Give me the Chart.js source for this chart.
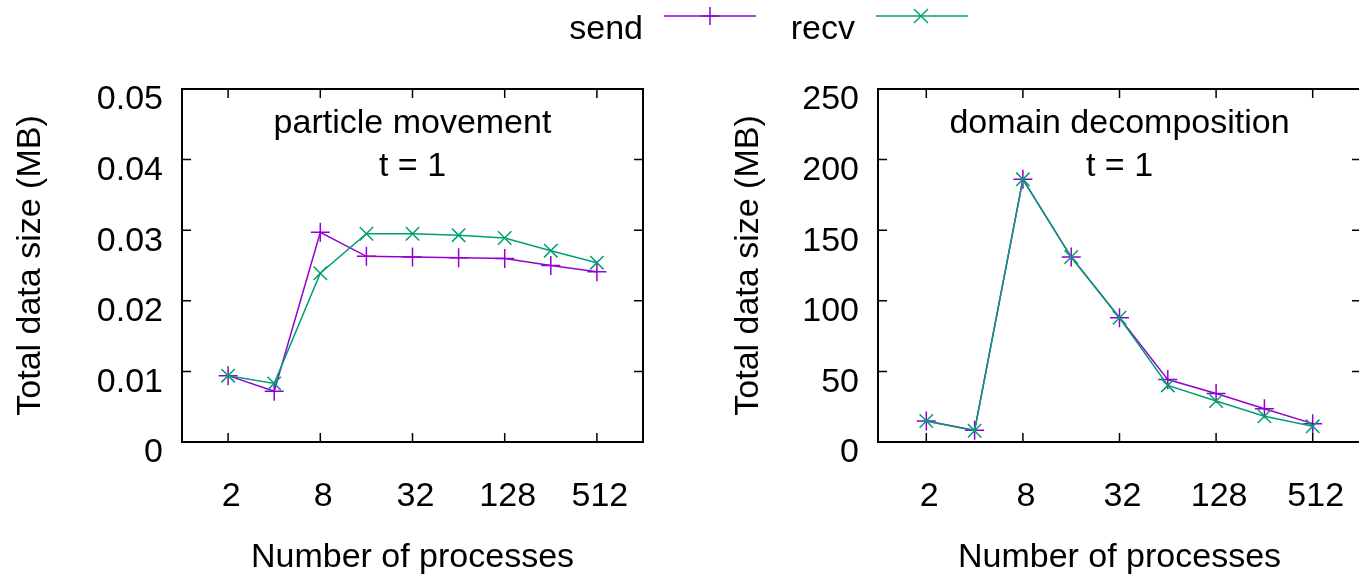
<!DOCTYPE html>
<html>
<head>
<meta charset="utf-8">
<script src="https://cdn.jsdelivr.net/npm/chart.js@4.4.1/dist/chart.umd.min.js"></script>
<style>
  html, body { margin: 0; padding: 0; background: #fff; width: 1359px; height: 578px; overflow: hidden; }
  #wrap { position: relative; width: 1359px; height: 578px; font-family: "Liberation Sans", Arial, sans-serif; }
  canvas { position: absolute; top: 0; }
  #leftChart { left: 0; }
  #rightChart { left: 718px; }
  .key { position: absolute; top: 10px; font-size: 34px; line-height: 1; color: #000; }
</style>
</head>
<body>
<div id="wrap">
  <canvas id="leftChart" width="680" height="578"></canvas>
  <canvas id="rightChart" width="680" height="578"></canvas>

  <!-- legend on top, like gnuplot's key -->
  <span class="key" style="right: 716px;">send</span>
  <span class="key" style="right: 504px;">recv</span>
  <svg style="position:absolute;left:0;top:0" width="1359" height="40">
    <g stroke="#9400D3" stroke-width="1.5">
      <line x1="664" y1="16" x2="756" y2="16"/>
      <line x1="710" y1="7" x2="710" y2="25"/>
      <line x1="701" y1="16" x2="719" y2="16"/>
    </g>
    <g stroke="#009E73" stroke-width="1.5">
      <line x1="876" y1="16" x2="968" y2="16"/>
      <line x1="914" y1="9" x2="928" y2="23"/>
      <line x1="914" y1="23" x2="928" y2="9"/>
    </g>
  </svg>
</div>

<script>
// --- data ---
const processes = [2, 4, 8, 16, 32, 64, 128, 256, 512];
const xTickLabels = ['2', '8', '32', '128', '512'];

// particle movement, t = 1
const moveSend = [0.0094, 0.0072, 0.0297, 0.0263, 0.0262, 0.0261, 0.0260, 0.0250, 0.0241];
const moveRecv = [0.0094, 0.0083, 0.0239, 0.0295, 0.0295, 0.0293, 0.0289, 0.0271, 0.0254];

// domain decomposition, t = 1
const domSend = [14.9, 8.3, 186, 131, 88, 44.2, 34.3, 23.6, 13.0];
const domRecv = [14.9, 8.0, 186, 131, 88, 40.1, 29.0, 18.2, 11.1];

const SEND_COLOR = '#9400D3';
const RECV_COLOR = '#009E73';
const FONT = { family: '"Liberation Sans", Arial, sans-serif', size: 34 };

Chart.defaults.font.family = FONT.family;
Chart.defaults.color = '#000';

// border box with inward ticks on all 4 sides + panel caption
const framePlugin = {
    id: 'frame',
    afterDraw(chart, args, opts) {
        const { ctx, chartArea: a, scales } = chart;
        const x = scales.x, y = scales.y;
        const tl = 9;
        ctx.save();
        ctx.strokeStyle = '#000';
        ctx.lineWidth = 1.5;
        ctx.beginPath();
        x.ticks.forEach(t => {
            const px = x.getPixelForValue(t.value);
            ctx.moveTo(px, a.bottom); ctx.lineTo(px, a.bottom - tl);
            ctx.moveTo(px, a.top); ctx.lineTo(px, a.top + tl);
        });
        y.ticks.forEach(t => {
            const py = y.getPixelForValue(t.value);
            ctx.moveTo(a.left, py); ctx.lineTo(a.left + tl, py);
            ctx.moveTo(a.right, py); ctx.lineTo(a.right - tl, py);
        });
        ctx.stroke();
        ctx.lineWidth = 2;
        ctx.strokeRect(a.left, a.top, a.right - a.left, a.bottom - a.top);

        ctx.fillStyle = '#000';
        ctx.font = `${FONT.size}px ${FONT.family}`;
        ctx.textAlign = 'center';
        ctx.textBaseline = 'alphabetic';
        const cx = (a.left + a.right) / 2;
        (opts.lines || []).forEach((s, i) => ctx.fillText(s, cx, a.top + 44 + i * 43));
        ctx.restore();
    }
};

function toPoints(vals) {
    return processes.map((p, i) => ({ x: Math.log2(p), y: vals[i] }));
}

function buildChart(canvasId, sendVals, recvVals, yMax, yStep, yAxisWidth, caption) {
    const ctx = document.getElementById(canvasId).getContext('2d');
    return new Chart(ctx, {
        type: 'line',
        data: {
            datasets: [{
                label: 'send',
                data: toPoints(sendVals),
                borderColor: SEND_COLOR,
                backgroundColor: SEND_COLOR,
                borderWidth: 1.5,
                pointStyle: 'cross',
                pointRadius: 9.5,
                pointBorderWidth: 1.5,
                order: 1
            }, {
                label: 'recv',
                data: toPoints(recvVals),
                borderColor: RECV_COLOR,
                backgroundColor: RECV_COLOR,
                borderWidth: 1.5,
                pointStyle: 'crossRot',
                pointRadius: 9.5,
                pointBorderWidth: 1.5,
                order: 0
            }]
        },
        options: {
            responsive: false,
            animation: false,
            layout: { padding: { top: 89, right: 37, bottom: 0, left: 0 } },
            plugins: {
                legend: { display: false },
                tooltip: { enabled: false },
                frame: { lines: caption }
            },
            scales: {
                x: {
                    type: 'linear',
                    min: 0,
                    max: 10,
                    grid: { display: false, drawTicks: false },
                    border: { display: false },
                    afterBuildTicks: s => {
                        s.ticks = xTickLabels.map(l => ({ value: Math.log2(+l) }));
                    },
                    ticks: {
                        callback: (v, i) => xTickLabels[i],
                        font: FONT,
                        color: '#000',
                        padding: 34,
                        labelOffset: 3,
                        maxRotation: 0,
                        autoSkip: false
                    },
                    title: {
                        display: true,
                        text: 'Number of processes',
                        font: FONT,
                        color: '#000',
                        padding: { top: 0, bottom: 0 }
                    },
                    afterFit: s => { s.height = 136; }
                },
                y: {
                    min: 0,
                    max: yMax,
                    grid: { display: false, drawTicks: false },
                    border: { display: false },
                    ticks: {
                        stepSize: yStep,
                        font: FONT,
                        color: '#000',
                        padding: 19,
                        labelOffset: 11
                    },
                    title: {
                        display: true,
                        text: 'Total data size (MB)',
                        font: FONT,
                        color: '#000',
                        padding: { top: 10, bottom: 0 }
                    },
                    afterFit: s => { s.width = yAxisWidth; }
                }
            }
        },
        plugins: [framePlugin]
    });
}

buildChart('leftChart', moveSend, moveRecv, 0.05, 0.01, 182, ['particle movement', 't = 1']);
buildChart('rightChart', domSend, domRecv, 250, 50, 160, ['domain decomposition', 't = 1']);
</script>
</body>
</html>
